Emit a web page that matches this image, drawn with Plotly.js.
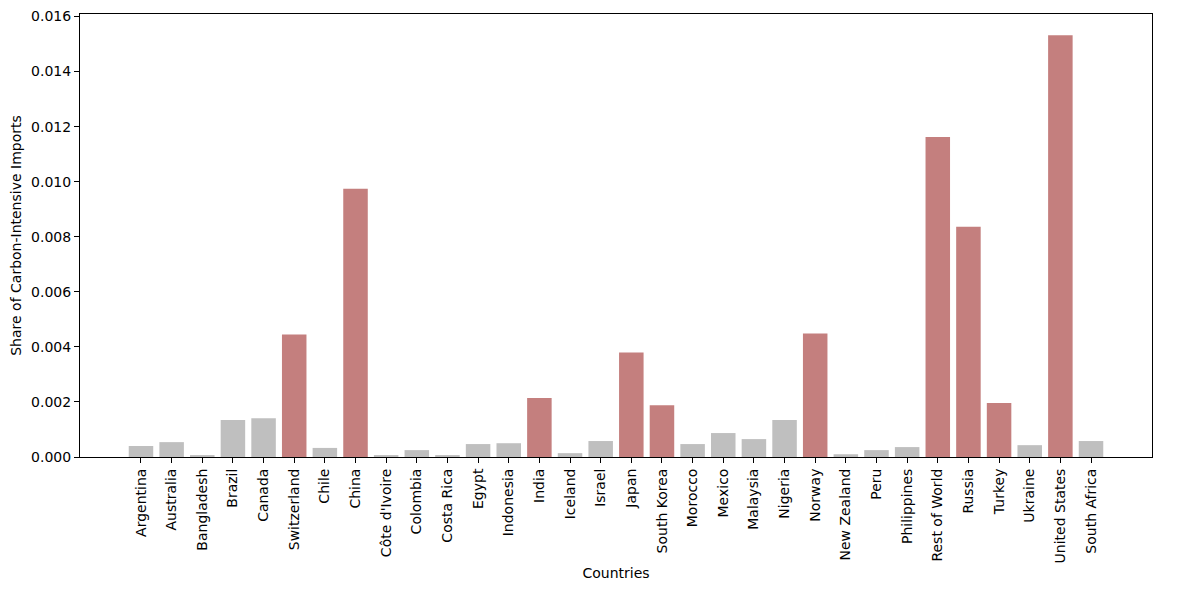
<!DOCTYPE html>
<html>
<head>
<meta charset="utf-8">
<script src="https://cdn.plot.ly/plotly-3.0.1.min.js"></script>
<style>html,body{margin:0;padding:0;background:#fff;}#chart{width:1189px;height:590px;}</style>
</head>
<body>
<div id="chart"></div>
<script>
const countries = ["Argentina","Australia","Bangladesh","Brazil","Canada","Switzerland","Chile","China","Côte d'Ivoire","Colombia","Costa Rica","Egypt","Indonesia","India","Iceland","Israel","Japan","South Korea","Morocco","Mexico","Malaysia","Nigeria","Norway","New Zealand","Peru","Philippines","Rest of World","Russia","Turkey","Ukraine","United States","South Africa"];
const shares = [0.00040,0.00054,0.00007,0.00134,0.00141,0.00445,0.00033,0.00974,0.00007,0.00025,0.00007,0.00047,0.00050,0.00214,0.00014,0.00058,0.00380,0.00188,0.00047,0.00087,0.00065,0.00134,0.00449,0.00010,0.00025,0.00036,0.01162,0.00836,0.00196,0.00043,0.01532,0.00058];
const highlighted = ["Switzerland","China","India","Japan","South Korea","Norway","Rest of World","Russia","Turkey","United States"];
const yTicks = [0,0.002,0.004,0.006,0.008,0.010,0.012,0.014,0.016];

const colors = countries.map(c => highlighted.includes(c) ? '#c47f7e' : '#bfbfbf');
const font = {family: 'DejaVu Sans, sans-serif', size: 14, color: '#000'};

Plotly.newPlot('chart', [{
  type: 'bar',
  x: countries.map((c,i)=>i),
  y: shares,
  marker: {color: colors, line: {width: 0}},
  width: 0.8,
  hoverinfo: 'x+y'
}], {
  width: 1189, height: 590,
  margin: {l: 80, r: 37, t: 14, b: 133, pad: 0},
  paper_bgcolor: '#fff', plot_bgcolor: '#fff',
  font: font,
  showlegend: false,
  xaxis: {
    range: [-1.99, 32.99],
    tickmode: 'array',
    tickvals: countries.map((c,i)=>i),
    ticktext: countries,
    tickangle: -90,
    ticks: 'outside', ticklen: 5, tickwidth: 1, tickcolor: '#000',
    showline: true, linecolor: '#000', linewidth: 1, mirror: true,
    showgrid: false, zeroline: false,
    tickfont: font,
    title: {text: 'Countries', font: font, standoff: 5}
  },
  yaxis: {
    range: [0, 0.01609],
    tickmode: 'array',
    tickvals: yTicks,
    ticktext: yTicks.map(v => v.toFixed(3)),
    ticks: 'outside', ticklen: 5, tickwidth: 1, tickcolor: '#000',
    showline: true, linecolor: '#000', linewidth: 1, mirror: true,
    showgrid: false, zeroline: false,
    tickfont: font,
    title: {text: 'Share of Carbon-Intensive Imports', font: font, standoff: 6}
  }
}, {displayModeBar: false, staticPlot: true});
</script>
</body>
</html>
